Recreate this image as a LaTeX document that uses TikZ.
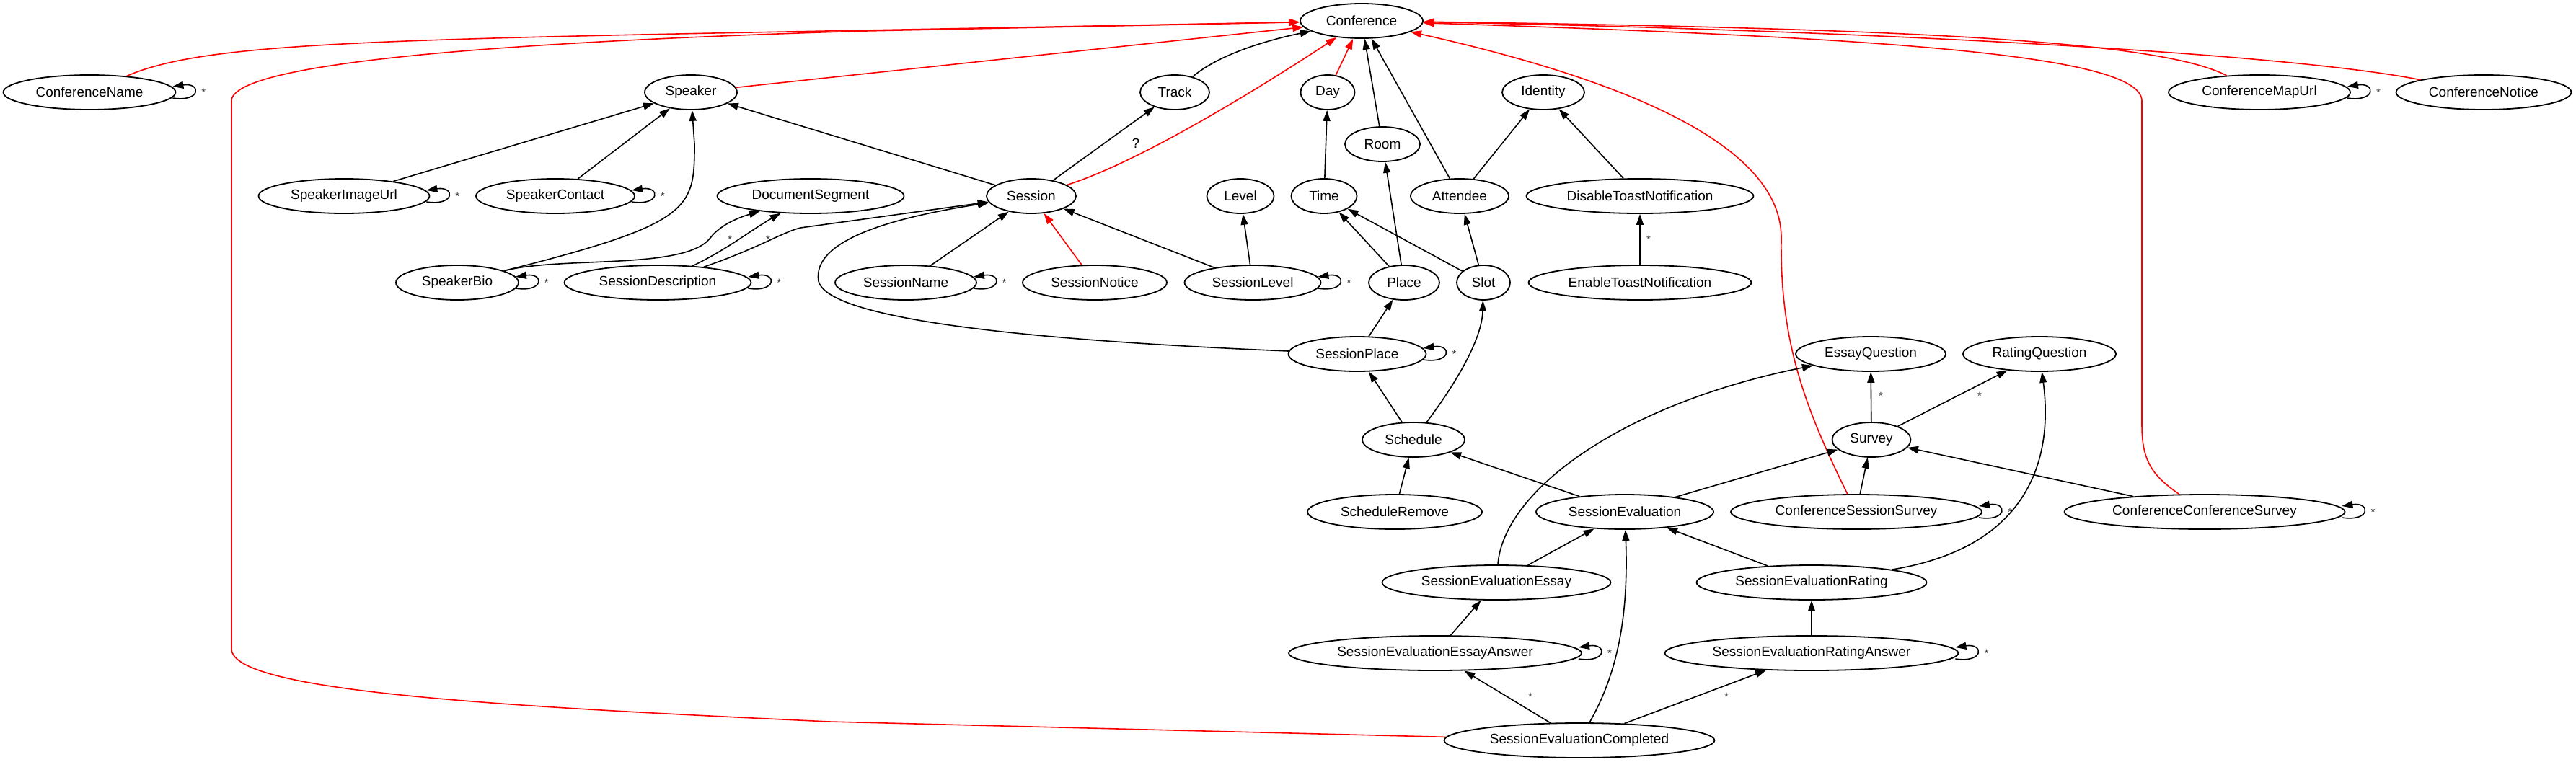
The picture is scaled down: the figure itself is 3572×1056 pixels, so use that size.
\documentclass[tikz,border=0pt]{standalone}
\usepackage{fontspec}
\setmainfont{Liberation Sans}
\usetikzlibrary{arrows.meta,calc,shapes.geometric}
\begin{document}
\begin{tikzpicture}[x=0.5pt,y=-0.5pt,
  nd/.style={draw, ellipse, line width=0.9pt, inner sep=0pt, minimum height=24pt, font=\fontsize{9.5}{11}\selectfont},
  conn/.style={draw, line width=0.8pt, -{Triangle[length=7.5pt,width=5pt]}},
  rconn/.style={conn, red},
  lbl/.style={inner sep=0pt, font=\fontsize{9.5}{11}\selectfont},
  star/.style={inner sep=0pt, text=black!80, font=\fontsize{7.5}{9}\selectfont},
]
\useasboundingbox (0,0) rectangle (3572,1056);
\newcommand{\sloop}[1]{%
  \draw[conn] ($(#1.east)+(-5,8)$) .. controls +(40,6) and +(40,-6) .. ($(#1.east)+(-5,-8)$);
  \node[star] (#1-l) at ($(#1.east)+(38,0)$) {*};}

% nodes
\node[nd, minimum width=85pt] (conf) at (1888,29) {Conference};
\node[nd, minimum width=119.5pt] (cname) at (124,128) {ConferenceName};
\node[nd, minimum width=64pt] (spk) at (958,128) {Speaker};
\node[nd, minimum width=48pt] (track) at (1629,128) {Track};
\node[nd, minimum width=37.5pt] (day) at (1841,128) {Day};
\node[nd, minimum width=57pt] (ident) at (2140,128) {Identity};
\node[nd, minimum width=126pt] (cmu) at (3133,128) {ConferenceMapUrl};
\node[nd, minimum width=121.5pt] (cnot) at (3444,128) {ConferenceNotice};
\node[nd, minimum width=52pt] (room) at (1917,200) {Room};
\node[nd, minimum width=118.5pt] (siu) at (477,272) {SpeakerImageUrl};
\node[nd, minimum width=110pt] (scon) at (770,272) {SpeakerContact};
\node[nd, minimum width=129.5pt] (doc) at (1124,272) {DocumentSegment};
\node[nd, minimum width=62pt] (ses) at (1430,272) {Session};
\node[nd, minimum width=46.5pt] (level) at (1720,272) {Level};
\node[nd, minimum width=45.5pt] (time) at (1836,272) {Time};
\node[nd, minimum width=68pt] (att) at (2024,272) {Attendee};
\node[nd, minimum width=157.5pt] (dis) at (2274,272) {DisableToastNotification};
\node[nd, minimum width=85pt] (sbio) at (634,392) {SpeakerBio};
\node[nd, minimum width=129.5pt] (sdesc) at (912,392) {SessionDescription};
\node[nd, minimum width=98pt] (sname) at (1256,392) {SessionName};
\node[nd, minimum width=100pt] (snot) at (1518,392) {SessionNotice};
\node[nd, minimum width=94.5pt] (slev) at (1737,392) {SessionLevel};
\node[nd, minimum width=49pt] (place) at (1947,392) {Place};
\node[nd, minimum width=37pt] (slot) at (2057,392) {Slot};
\node[nd, minimum width=154.5pt] (en) at (2274,392) {EnableToastNotification};
\node[nd, minimum width=95.5pt] (splace) at (1882,491) {SessionPlace};
\node[nd, minimum width=104pt] (eq) at (2594,491) {EssayQuestion};
\node[nd, minimum width=106pt] (rq) at (2828,491) {RatingQuestion};
\node[nd, minimum width=71pt] (sched) at (1960,610) {Schedule};
\node[nd, minimum width=54.5pt] (survey) at (2595,610) {Survey};
\node[nd, minimum width=121pt] (srem) at (1934,710) {ScheduleRemove};
\node[nd, minimum width=123pt] (seval) at (2253,710) {SessionEvaluation};
\node[nd, minimum width=174pt] (css) at (2574,710) {ConferenceSessionSurvey};
\node[nd, minimum width=194.5pt] (ccs) at (3057,710) {ConferenceConferenceSurvey};
\node[nd, minimum width=158.5pt] (see) at (2075,808) {SessionEvaluationEssay};
\node[nd, minimum width=159.5pt] (ser) at (2512,808) {SessionEvaluationRating};
\node[nd, minimum width=203pt] (seea) at (1990,906) {SessionEvaluationEssayAnswer};
\node[nd, minimum width=203.5pt] (sera) at (2512,906) {SessionEvaluationRatingAnswer};
\node[nd, minimum width=187.5pt] (sec) at (2190,1027) {SessionEvaluationCompleted};

% red edges
\draw[rconn] (cname) .. controls (280,60) and (500,55) .. (1200,42) -- (conf);
\draw[rconn] (sec) -- (1150,1001) .. controls (700,980) and (321,960) .. (321,900) -- (321,140) .. controls (321,80) and (800,55) .. (1200,43) -- (conf);
\draw[rconn] (spk) -- (conf);
\draw[rconn] (ses) .. controls (1580,225) and (1750,120) .. (conf);
\draw[rconn] (day) -- (conf);
\draw[rconn] (css) .. controls (2500,560) and (2468,470) .. (2470,330) .. controls (2470,200) and (2250,110) .. (conf);
\draw[rconn] (cmu) .. controls (3000,60) and (2700,40) .. (conf);
\draw[rconn] (cnot) .. controls (3150,70) and (2500,40) .. (conf);
\draw[rconn] (ccs) .. controls (2985,660) and (2970,640) .. (2970,590) -- (2970,140) .. controls (2970,75) and (2600,52) .. (conf);
\draw[rconn] (snot) -- (ses);

% black edges
\draw[conn] (track) .. controls (1690,75) and (1760,55) .. (conf);
\draw[conn] (room) -- (conf);
\draw[conn] (att) -- (conf);
\draw[conn] (ses) -- (track);
\node[lbl] (qm) at (1575,199) {?};
\draw[conn] (ses) -- (spk);
\draw[conn] (siu) -- (spk);
\draw[conn] (scon) -- (spk);
\draw[conn] (sbio) .. controls (960,310) and (963,290) .. (963,200) -- (spk);
\draw[conn] (sbio) .. controls (780,355) and (950,375) .. (985,330) .. controls (1000,310) and (1030,300) .. (doc);
\node[star] (l-bd) at (1012,332) {*};
\draw[conn] (sdesc) .. controls (1010,345) and (1040,320) .. (doc);
\node[star] (l-sd) at (1065,332) {*};
\draw[conn] (sdesc) .. controls (1050,345) and (1085,322) .. (1110,316) -- (ses);
\draw[conn] (splace) .. controls (1500,475) and (1150,450) .. (1135,390) .. controls (1125,330) and (1250,300) .. (ses);
\draw[conn] (sname) -- (ses);
\draw[conn] (slev) -- (ses);
\draw[conn] (slev) -- (level);
\draw[conn] (time) -- (day);
\draw[conn] (place) -- (time);
\draw[conn] (place) -- (room);
\draw[conn] (slot) -- (time);
\draw[conn] (slot) -- (att);
\draw[conn] (att) -- (ident);
\draw[conn] (dis) -- (ident);
\draw[conn] (en) -- (dis);
\node[star] (l-en) at (2286,332) {*};
\draw[conn] (splace) -- (place);
\draw[conn] (sched) -- (splace);
\draw[conn] (sched) .. controls (2020,530) and (2055,470) .. (slot);
\draw[conn] (srem) -- (sched);
\draw[conn] (seval) -- (sched);
\draw[conn] (seval) -- (survey);
\draw[conn] (see) -- (seval);
\draw[conn] (see) .. controls (2085,680) and (2250,560) .. (eq);
\draw[conn] (ser) -- (seval);
\draw[conn] (ser) .. controls (2810,760) and (2848,640) .. (rq);
\draw[conn] (seea) -- (see);
\draw[conn] (sera) -- (ser);
\draw[conn] (sec) -- (seea);
\node[star] (l-sec1) at (2122,966) {*};
\draw[conn] (sec) -- (sera);
\node[star] (l-sec2) at (2394,966) {*};
\draw[conn] (sec) .. controls (2245,930) and (2258,850) .. (seval);
\draw[conn] (survey) -- (eq);
\node[star] (l-sv1) at (2608,549) {*};
\draw[conn] (survey) -- (rq);
\node[star] (l-sv2) at (2745,549) {*};
\draw[conn] (css) -- (survey);
\draw[conn] (ccs) -- (survey);

% self loops
\sloop{cname}
\sloop{siu}
\sloop{scon}
\sloop{sbio}
\sloop{sdesc}
\sloop{sname}
\sloop{slev}
\sloop{splace}
\sloop{cmu}
\sloop{seea}
\sloop{sera}
\sloop{css}
\sloop{ccs}
\end{tikzpicture}
\end{document}
